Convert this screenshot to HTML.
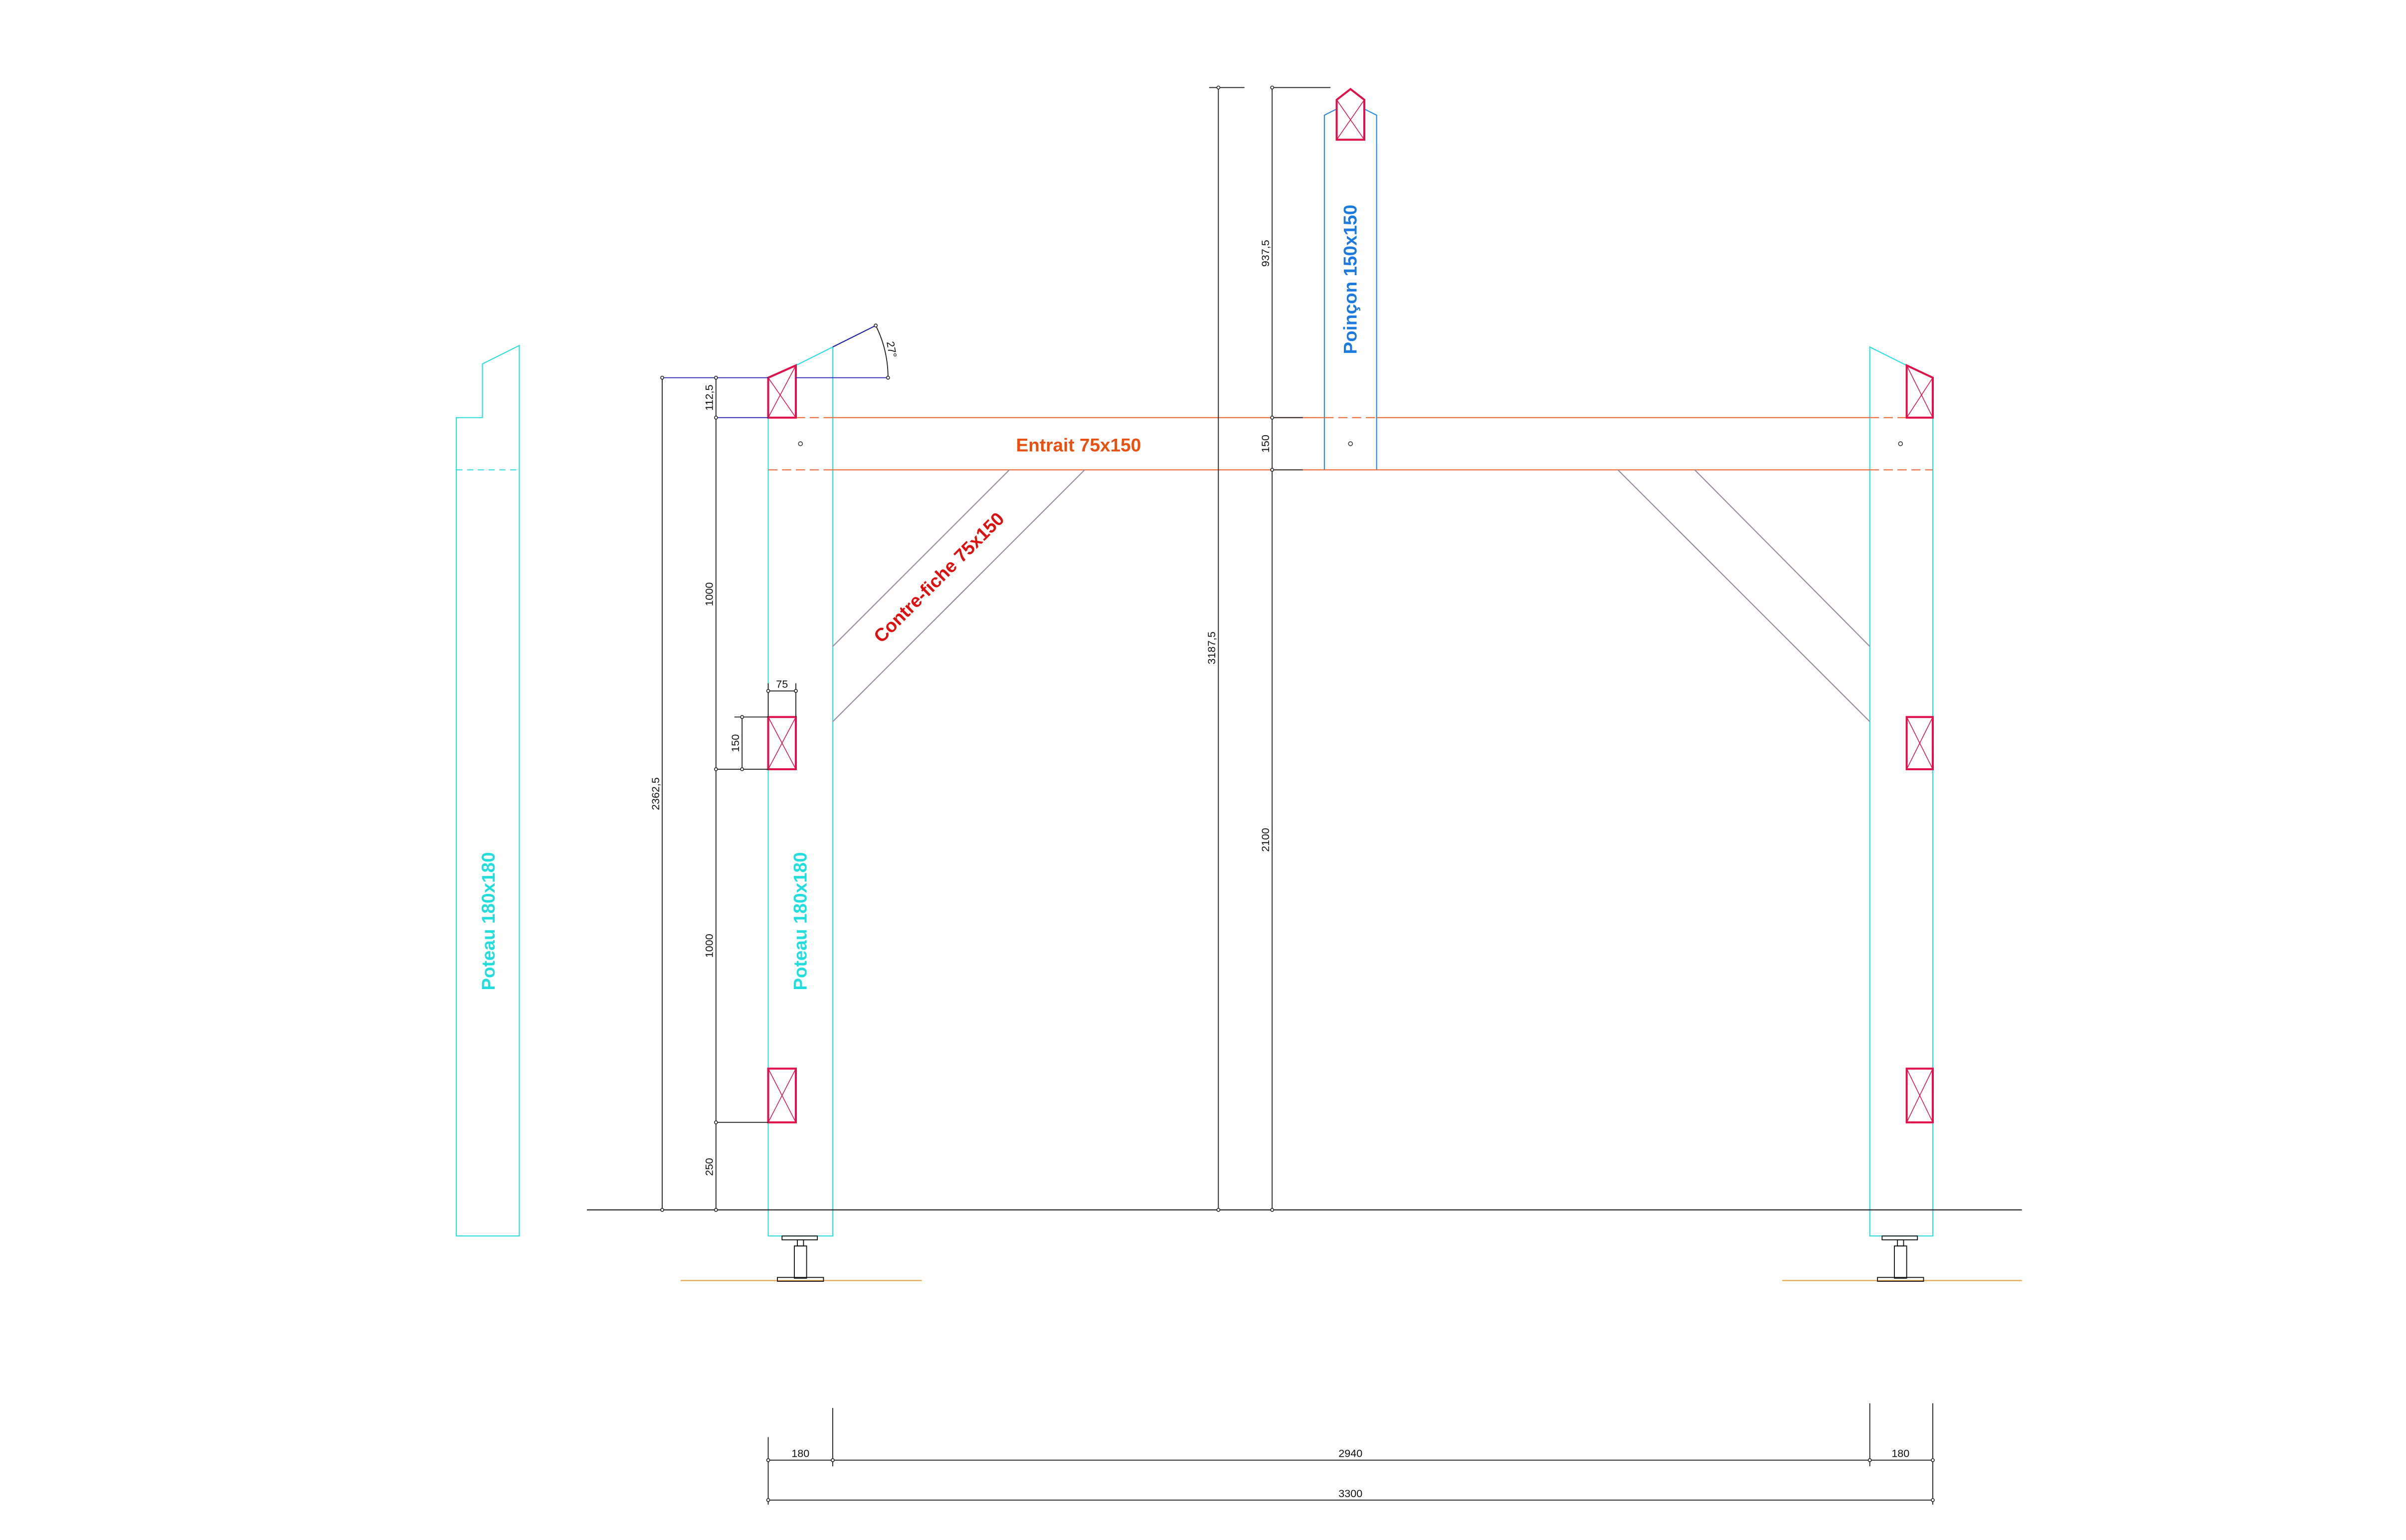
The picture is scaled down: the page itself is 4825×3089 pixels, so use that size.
<!DOCTYPE html>
<html><head><meta charset="utf-8"><style>
html,body{margin:0;padding:0;background:#fff;}
svg{display:block;}
text{font-family:"Liberation Sans",sans-serif;}
</style></head><body>
<svg width="4825" height="3089" viewBox="0 0 1566 1003" preserveAspectRatio="none" xmlns="http://www.w3.org/2000/svg">
<rect width="1566" height="1003" fill="#fff"/>
<g fill="none" stroke-width="0.7">
<path d="M297,805 L297,272 L314,272 L314,237 L338,225 L338,805 Z" stroke="#33dddd"/>
<line x1="297" y1="306" x2="338" y2="306" stroke="#33dddd" stroke-dasharray="4,3"/>
<path d="M500,272 L500,805 L542,805 L542,226" stroke="#33dddd"/>
<line x1="518" y1="238" x2="542" y2="226" stroke="#33dddd"/>
<line x1="542" y1="226" x2="570" y2="212" stroke="#2222aa"/>
<path d="M1258,272 L1258,805 L1217,805 L1217,226 L1241,238" stroke="#33dddd"/>
<path d="M862,306 L862,75 L870,71 M888,71 L896,75 L896,306" stroke="#2a8ae0"/>
<!-- entrait -->
<g stroke="#e86a3a">
<line x1="542" y1="272" x2="862" y2="272"/>
<line x1="896" y1="272" x2="1217" y2="272"/>
<line x1="862" y1="272" x2="896" y2="272" stroke-dasharray="6,3"/>
<line x1="542" y1="306" x2="1217" y2="306"/>
<line x1="518" y1="272" x2="542" y2="272" stroke-dasharray="6,3"/>
<line x1="500" y1="306" x2="542" y2="306" stroke-dasharray="6,3"/>
<line x1="1217" y1="272" x2="1241" y2="272" stroke-dasharray="6,3"/>
<line x1="1217" y1="306" x2="1258" y2="306" stroke-dasharray="6,3"/>
</g>
<g stroke="#9a8aa0">
<line x1="542" y1="421" x2="657" y2="306"/>
<line x1="542" y1="470" x2="706" y2="306"/>
<line x1="1053" y1="306" x2="1217" y2="470"/>
<line x1="1103" y1="306" x2="1217" y2="421"/>
</g>
<g stroke="#e0104a" stroke-width="1.3">
<path d="M500,246 L518,238 L518,272 L500,272 Z"/>
<rect x="500" y="467" width="18" height="34"/>
<rect x="500" y="696" width="18" height="35"/>
<path d="M1241,238 L1258,246 L1258,272 L1241,272 Z"/>
<rect x="1241" y="467" width="17" height="34"/>
<rect x="1241" y="696" width="17" height="35"/>
<path d="M870,91 L870,65 L879,58 L888,65 L888,91 Z"/>
</g>
<g stroke="#e0104a" stroke-width="0.5">
<path d="M500,246 L518,272 M518,238 L500,272"/>
<path d="M500,467 L518,501 M518,467 L500,501"/>
<path d="M500,696 L518,731 M518,696 L500,731"/>
<path d="M1241,238 L1258,272 M1258,246 L1241,272"/>
<path d="M1241,467 L1258,501 M1258,467 L1241,501"/>
<path d="M1241,696 L1258,731 M1258,696 L1241,731"/>
<path d="M870,65 L888,91 M888,65 L870,91"/>
</g>
<g stroke="#333" stroke-width="0.5">
<circle cx="521" cy="289" r="1.3"/><circle cx="879" cy="289" r="1.3"/><circle cx="1237" cy="289" r="1.3"/>
</g>
<line x1="382" y1="788" x2="1316" y2="788" stroke="#222"/>
<line x1="443" y1="834" x2="600" y2="834" stroke="#e8a040"/>
<line x1="1160" y1="834" x2="1316" y2="834" stroke="#e8a040"/>
<g stroke="#111" stroke-width="0.6">
<rect x="509" y="805" width="23" height="2.5"/><rect x="519" y="807.5" width="4" height="4"/><rect x="517" y="811.5" width="8" height="21"/><rect x="506" y="832" width="30" height="2.5"/>
<rect x="1225" y="805" width="23" height="2.5"/><rect x="1235" y="807.5" width="4" height="4"/><rect x="1233" y="811.5" width="8" height="21"/><rect x="1222" y="832" width="30" height="2.5"/>
</g>
<g stroke="#222" stroke-width="0.6">
<line x1="431" y1="246" x2="431" y2="788"/>
<line x1="466" y1="272" x2="466" y2="788"/>
<line x1="466" y1="246" x2="466" y2="272"/>
<line x1="466" y1="501" x2="500" y2="501"/>
<line x1="466" y1="731" x2="500" y2="731"/>
<line x1="483" y1="467" x2="483" y2="501"/>
<line x1="478" y1="467" x2="500" y2="467"/>
<line x1="500" y1="450" x2="518" y2="450"/>
<line x1="500" y1="445" x2="500" y2="467"/><line x1="518" y1="445" x2="518" y2="467"/>
<line x1="793" y1="57" x2="793" y2="788"/>
<line x1="828" y1="57" x2="828" y2="788"/>
<line x1="787" y1="57" x2="810" y2="57"/><line x1="828" y1="57" x2="866" y2="57"/>
<line x1="828" y1="272" x2="848" y2="272"/><line x1="828" y1="306" x2="848" y2="306"/>
<line x1="500" y1="951" x2="1258" y2="951"/>
<line x1="500" y1="977" x2="1258" y2="977"/>
<line x1="500" y1="936" x2="500" y2="980"/>
<line x1="542" y1="917" x2="542" y2="955"/>
<line x1="1217" y1="914" x2="1217" y2="955"/>
<line x1="1258" y1="914" x2="1258" y2="980"/>
<path d="M570,212 Q578,228 578,246"/>
</g>
<g stroke="#2222aa" stroke-width="0.6">
<line x1="431" y1="246" x2="500" y2="246"/>
<line x1="466" y1="272" x2="500" y2="272"/>
<line x1="518" y1="246" x2="578" y2="246"/>
</g>
<g fill="#fff" stroke="#222" stroke-width="0.5">
<circle cx="431" cy="246" r="1"/><circle cx="431" cy="788" r="1"/>
<circle cx="466" cy="246" r="1"/><circle cx="466" cy="272" r="1"/><circle cx="466" cy="501" r="1"/><circle cx="466" cy="731" r="1"/><circle cx="466" cy="788" r="1"/>
<circle cx="483" cy="467" r="1"/><circle cx="483" cy="501" r="1"/>
<circle cx="500" cy="450" r="1"/><circle cx="518" cy="450" r="1"/>
<circle cx="793" cy="57" r="1"/><circle cx="793" cy="788" r="1"/>
<circle cx="828" cy="57" r="1"/><circle cx="828" cy="272" r="1"/><circle cx="828" cy="306" r="1"/><circle cx="828" cy="788" r="1"/>
<circle cx="500" cy="951" r="1"/><circle cx="542" cy="951" r="1"/><circle cx="1217" cy="951" r="1"/><circle cx="1258" cy="951" r="1"/>
<circle cx="500" cy="977" r="1"/><circle cx="1258" cy="977" r="1"/>
<circle cx="570" cy="212" r="1"/><circle cx="578" cy="246" r="1"/>
</g>
</g>
<g font-size="7" fill="#111" text-anchor="middle">
<text transform="translate(464,259) rotate(-90)">112,5</text>
<text transform="translate(464,387) rotate(-90)">1000</text>
<text transform="translate(464,616) rotate(-90)">1000</text>
<text transform="translate(464,760) rotate(-90)">250</text>
<text transform="translate(429,517) rotate(-90)">2362,5</text>
<text transform="translate(481,484) rotate(-90)">150</text>
<text x="509" y="448">75</text>
<text transform="translate(791,422) rotate(-90)">3187,5</text>
<text transform="translate(826,165) rotate(-90)">937,5</text>
<text transform="translate(826,289) rotate(-90)">150</text>
<text transform="translate(826,547) rotate(-90)">2100</text>
<text transform="translate(578,228) rotate(80)">27°</text>
<text x="521" y="949">180</text>
<text x="879" y="949">2940</text>
<text x="1237" y="949">180</text>
<text x="879" y="975">3300</text>
</g>
<g font-weight="bold" font-size="12" text-anchor="middle">
<text transform="translate(322,600) rotate(-90)" fill="#22dddd">Poteau 180x180</text>
<text transform="translate(525,600) rotate(-90)" fill="#22dddd">Poteau 180x180</text>
<text transform="translate(883,182) rotate(-90)" fill="#1a7ae0">Poinçon 150x150</text>
<text x="702" y="294" fill="#e85010">Entrait 75x150</text>
<text transform="translate(614,379) rotate(-45)" fill="#dd1010">Contre-fiche 75x150</text>
</g>
</svg>
</body></html>
